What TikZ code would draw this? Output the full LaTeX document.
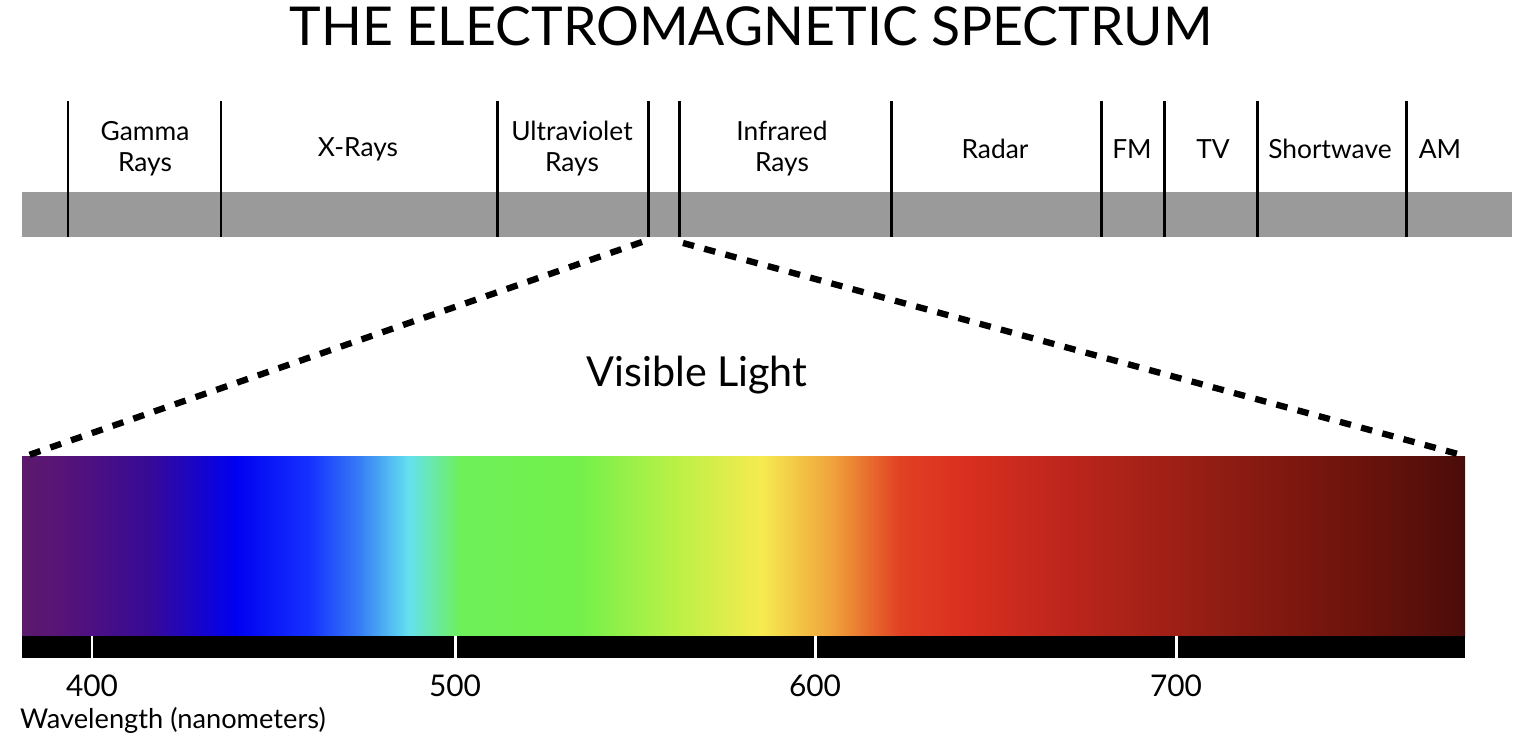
\documentclass[tikz,border=0pt]{standalone}
\usepackage{fontspec}
\setmainfont{Lato}
\usetikzlibrary{positioning}

\definecolor{bandgrey}{RGB}{154,154,154}
\definecolor{vA}{RGB}{92,26,108}
\definecolor{vB}{RGB}{88,20,118}
\definecolor{vC}{RGB}{55,10,150}
\definecolor{vD}{RGB}{0,0,240}
\definecolor{vE}{RGB}{22,50,255}
\definecolor{vF}{RGB}{55,125,245}
\definecolor{vG}{RGB}{100,225,240}
\definecolor{vH}{RGB}{110,240,90}
\definecolor{vI}{RGB}{115,240,75}
\definecolor{vJ}{RGB}{190,240,70}
\definecolor{vK}{RGB}{245,235,80}
\definecolor{vL}{RGB}{240,165,60}
\definecolor{vM}{RGB}{225,65,35}
\definecolor{vN}{RGB}{218,48,32}
\definecolor{vO}{RGB}{190,38,28}
\definecolor{vP}{RGB}{150,30,20}
\definecolor{vQ}{RGB}{110,20,12}
\definecolor{vR}{RGB}{75,12,10}

\pgfdeclarehorizontalshading{visible}{100bp}{
  color(0bp)=(vA); color(25bp)=(vA); color(26.3bp)=(vB); color(29.4bp)=(vC);
  color(32.4bp)=(vD); color(35bp)=(vE); color(36.7bp)=(vF); color(38.4bp)=(vG);
  color(40.2bp)=(vH); color(44.3bp)=(vI); color(47.8bp)=(vJ); color(50.6bp)=(vK);
  color(53bp)=(vL); color(55.4bp)=(vM); color(57.5bp)=(vN); color(61bp)=(vO);
  color(65.8bp)=(vP); color(71bp)=(vQ); color(75bp)=(vR); color(100bp)=(vR)}

\begin{document}
\begin{tikzpicture}[
    x=0.02cm, y=-0.02cm,
    band/.style={font=\fontsize{15}{17.6}\selectfont, align=center},
    divider/.style={line width=1.7pt},
    tick/.style={white, line width=1.7pt},
    zoomline/.style={line width=3.6pt, dash pattern=on 6.5pt off 6pt},
    ticklabel/.style={font=\fontsize{17}{20}\selectfont}
  ]
  \useasboundingbox (0,0) rectangle (1534,756);

  % Title
  \node[font=\fontsize{30.5}{36}\selectfont] (title) at (751,26) {THE ELECTROMAGNETIC SPECTRUM};

  % Grey band with dividers
  \fill[bandgrey] (22,192) rectangle (1512,237);
  \foreach \x in {68,221,497,648,679,891,1101,1164,1257,1406}
    \draw[divider] (\x,101) -- (\x,237);
  \coordinate (uv) at (642,242);
  \coordinate (ir) at (683,243);

  % Band labels
  \node[band] (gamma) at (145,149) {Gamma\\Rays};
  \node[band] (xray) at (358,149) {X-Rays};
  \node[band] (ultra) at (572,149) {Ultraviolet\\Rays};
  \node[band] (infra) at (782,149) {Infrared\\Rays};
  \node[band] (radar) at (995,149) {Radar};
  \node[band] (fm) at (1132,149) {FM};
  \node[band] (tv) at (1213,149) {TV};
  \node[band] (short) at (1330,149) {Shortwave};
  \node[band] (am) at (1440,149) {AM};

  % Visible part
  \node[font=\fontsize{23.5}{26}\selectfont] (visible) at (697,375) {Visible Light};
  \shade[shading=visible] (22,457) rectangle (1465,636);
  \fill[black] (22,636) rectangle (1465,658);
  \coordinate (specL) at (26,456);
  \coordinate (specR) at (1458,454);

  \draw[zoomline] (uv) -- (specL);
  \draw[zoomline] (ir) -- (specR);

  % Wavelength scale
  \foreach \x/\nm in {92/400,455/500,815/600,1176/700}{
    \draw[tick] (\x,636) -- (\x,658);
    \node[ticklabel] (nm\nm) at (\x,686) {\nm};
  }
  \node[font=\fontsize{15.5}{18}\selectfont, anchor=west] (axis) at (14,720) {Wavelength (nanometers)};
\end{tikzpicture}
\end{document}
